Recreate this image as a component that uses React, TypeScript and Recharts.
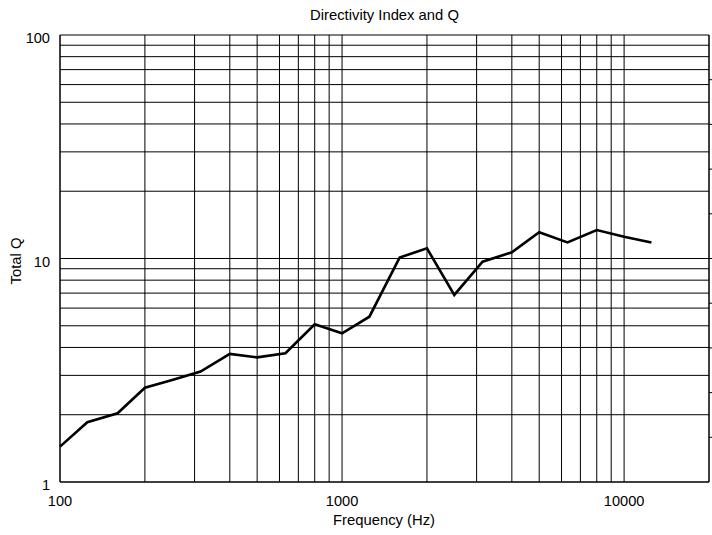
import { LineChart, Line, XAxis, YAxis, CartesianGrid, Label } from "recharts";

// 1/3-octave frequencies (Hz) and measured total Q
const frequencies = [100, 125, 160, 200, 250, 315, 400, 500, 630, 800, 1000, 1250, 1600, 2000, 2500, 3150, 4000, 5000, 6300, 8000, 10000, 12500];
const totalQ = [1.44, 1.85, 2.03, 2.64, 2.86, 3.12, 3.74, 3.61, 3.77, 5.08, 4.63, 5.49, 10.1, 11.1, 6.87, 9.68, 10.66, 13.1, 11.8, 13.4, 12.5, 11.8];

const freqTicks = [100, 200, 300, 400, 500, 600, 700, 800, 900, 1000, 2000, 3000, 4000, 5000, 6000, 7000, 8000, 9000, 10000, 20000];
const freqLabels = [100, 1000, 10000];
const qTicks = [1, 2, 3, 4, 5, 6, 7, 8, 9, 10, 20, 30, 40, 50, 60, 70, 80, 90, 100];
const qLabels = [1, 10, 100];
// directivity index (dB) ticks on the right edge
const diTicks = [2, 4, 6, 8, 10, 12, 14, 16, 18];

const FONT = '"Liberation Sans", Arial, Helvetica, sans-serif';

const data = frequencies.map((f, i) => ({ freq: f, q: totalQ[i] }));

function FreqTick({ x, y, payload }: any) {
  if (!freqLabels.includes(payload.value)) return <g />;
  return (
    <text x={x} y={y} dy={16} textAnchor="middle" fontSize={14.6} fontFamily={FONT} fill="#000">
      {payload.value}
    </text>
  );
}

function QTick({ x, y, payload }: any) {
  if (!qLabels.includes(payload.value)) return <g />;
  return (
    <text x={x} y={y} dx={-2} dy={8} textAnchor="end" fontSize={14.6} fontFamily={FONT} fill="#000">
      {payload.value}
    </text>
  );
}

function EmptyTick() {
  return <g />;
}

export default function App() {
  return (
    <div style={{ position: "relative", width: 712, height: 535, background: "#fff" }}>
      <style>{"body{margin:0}"}</style>
      <div
        style={{
          position: "absolute",
          top: 7,
          left: 60,
          width: 649,
          textAlign: "center",
          fontFamily: FONT,
          fontSize: 14.8,
          lineHeight: "17px",
          color: "#000",
        }}
      >
        Directivity Index and Q
      </div>
      <LineChart width={712} height={535} data={data} margin={{ top: 35, right: 0, bottom: 0, left: 0 }}>
        <CartesianGrid stroke="#000" strokeWidth={1} />
        <XAxis
          dataKey="freq"
          type="number"
          scale="log"
          domain={[100, 20000]}
          ticks={freqTicks}
          interval={0}
          height={53}
          tickLine={false}
          axisLine={{ stroke: "#000" }}
          tick={<FreqTick />}
        >
          <Label
            content={() => (
              <text x={384} y={525} textAnchor="middle" fontSize={14.8} fontFamily={FONT} fill="#000">
                Frequency (Hz)
              </text>
            )}
          />
        </XAxis>
        <YAxis
          type="number"
          scale="log"
          domain={[1, 100]}
          ticks={qTicks}
          interval={0}
          width={60}
          tickLine={false}
          axisLine={{ stroke: "#000" }}
          tick={<QTick />}
        >
          <Label
            content={() => (
              <text
                x={21}
                y={261}
                transform="rotate(-90 21 261)"
                textAnchor="middle"
                fontSize={14.8}
                fontFamily={FONT}
                fill="#000"
              >
                Total Q
              </text>
            )}
          />
        </YAxis>
        <YAxis
          yAxisId="di"
          orientation="right"
          type="number"
          domain={[0, 20]}
          allowDataOverflow
          ticks={diTicks}
          interval={0}
          width={3}
          tick={<EmptyTick />}
          tickSize={4}
          tickLine={{ stroke: "#000" }}
          axisLine={{ stroke: "#000" }}
        />
        <Line
          dataKey="q"
          stroke="#000"
          strokeWidth={2.6}
          dot={false}
          isAnimationActive={false}
          strokeLinejoin="miter"
        />
        {/* carries the right-hand DI axis; not drawn */}
        <Line yAxisId="di" dataKey="q" stroke="none" dot={false} activeDot={false} isAnimationActive={false} />
      </LineChart>
    </div>
  );
}
